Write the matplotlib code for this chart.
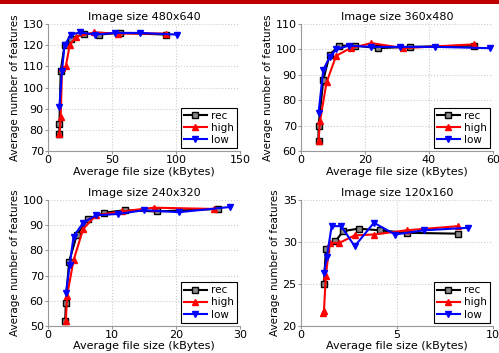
import matplotlib.pyplot as plt
import matplotlib.patches as mpatches

# (title, xlim, xticks, ylim, yticks)
panels = [
    ('Image size 480x640', (0, 150), [0, 50, 100, 150], (70, 130), [70, 80, 90, 100, 110, 120, 130]),
    ('Image size 360x480', (0, 60), [0, 20, 40, 60], (60, 110), [60, 70, 80, 90, 100, 110]),
    ('Image size 240x320', (0, 30), [0, 10, 20, 30], (50, 100), [50, 60, 70, 80, 90, 100]),
    ('Image size 120x160', (0, 10), [0, 5, 10], (20, 35), [20, 25, 30, 35]),
]

# panel 1: 480x640
rec1_x = [9, 9, 10, 13, 18, 28, 40, 56, 92]
rec1_y = [78, 83, 108, 120, 123, 125.5, 125, 125.8, 125]
high1_x = [9, 10, 11, 14, 17, 22, 36, 55, 92]
high1_y = [78, 86, 109, 110, 120, 124, 126, 125.5, 125.5]
low1_x = [9, 11, 13, 18, 25, 37, 52, 72, 101]
low1_y = [91, 108, 120, 125, 126, 125, 125.8, 125.8, 125]

# panel 2: 360x480
rec2_x = [5.5, 5.5, 7, 9, 12, 17, 24, 34, 54]
rec2_y = [64, 70, 88, 98, 101.5, 101.5, 100.5, 101, 101.5]
high2_x = [5.5, 6, 8, 11, 15.5, 22, 32, 54]
high2_y = [64, 72, 87, 97.5, 100.5, 102.5, 100.5, 102]
low2_x = [5.5, 7, 9, 11, 15, 22, 31, 42, 59]
low2_y = [75, 92, 97, 100, 101.5, 101, 101, 101, 100.5]

# panel 3: 240x320
rec3_x = [2.7, 2.8, 3.3, 4.5, 6.3, 8.8, 12, 17, 26.5]
rec3_y = [52, 59, 75.5, 86, 92.5, 95, 96, 95.5, 96.5]
high3_x = [2.8, 3, 4, 5.5, 7.5, 11.5, 16.5, 26]
high3_y = [52, 62, 76, 88.5, 94, 95.5, 97, 96.5]
low3_x = [2.8, 3.4, 4, 5.5, 7.5, 11, 15, 20.5, 28.5]
low3_y = [63, 74, 85.5, 91, 94, 94.5, 96, 95.2, 97.3]

# panel 4: 120x160
rec4_x = [1.2, 1.3, 1.8, 2.2, 3.0, 4.1, 5.5, 8.2]
rec4_y = [25, 29.2, 30.1, 31.3, 31.6, 31.4, 31.1, 31.0]
high4_x = [1.15, 1.2, 1.3, 1.5, 2.0, 2.8, 3.8, 5.5, 8.2]
high4_y = [21.5, 21.8, 26, 29.9, 29.9, 30.8, 30.9, 31.4, 31.9]
low4_x = [1.2, 1.35, 1.6, 2.1, 2.8, 3.8, 4.9, 6.4, 8.7]
low4_y = [26.3, 28.2, 31.9, 31.9, 29.5, 32.3, 30.9, 31.4, 31.7]

series = [
    [(rec1_x, rec1_y), (high1_x, high1_y), (low1_x, low1_y)],
    [(rec2_x, rec2_y), (high2_x, high2_y), (low2_x, low2_y)],
    [(rec3_x, rec3_y), (high3_x, high3_y), (low3_x, low3_y)],
    [(rec4_x, rec4_y), (high4_x, high4_y), (low4_x, low4_y)],
]
names = ['rec', 'high', 'low']
styles = [
    dict(color='black', marker='s', mfc='#888888', mec='black'),
    dict(color='#ff0000', marker='^', mfc='#ff0000', mec='#ff0000'),
    dict(color='#0000ff', marker='v', mfc='#0000ff', mec='#0000ff'),
]

fig = plt.figure(figsize=(4.99, 3.53), dpi=100)
fig.add_artist(mpatches.Rectangle((0, 0.988), 1, 0.012, transform=fig.transFigure,
                                  color='#c00000', lw=0))

rects = [
    [0.096, 0.572, 0.385, 0.360],
    [0.603, 0.572, 0.385, 0.360],
    [0.096, 0.077, 0.385, 0.356],
    [0.603, 0.077, 0.385, 0.356],
]

for i in range(4):
    title, xl, xt, yl, yt = panels[i]
    ax = fig.add_axes(rects[i])
    for (x, y), nm, st in zip(series[i], names, styles):
        ax.plot(x, y, lw=1.5, ms=4.5, label=nm, **st)
    ax.set_xlim(xl)
    ax.set_ylim(yl)
    ax.set_xticks(xt)
    ax.set_yticks(yt)
    ax.grid(True, ls=':', color='#cccccc', lw=0.8)
    for s in ['top', 'right']:
        ax.spines[s].set_visible(False)
    for s in ['left', 'bottom']:
        ax.spines[s].set_color('#999999')
        ax.spines[s].set_linewidth(0.8)
    ax.tick_params(labelsize=8, length=2, color='#999999', pad=1)
    ax.set_title(title, fontsize=8, pad=3)
    ax.set_xlabel('Average file size (kBytes)', fontsize=8, labelpad=1)
    ax.set_ylabel('Average number of features', fontsize=7.5, labelpad=2)
    leg = ax.legend(loc='lower right', fontsize=7.5, fancybox=False, framealpha=1,
                    edgecolor='black', handlelength=2.2, borderpad=0.3,
                    labelspacing=0.2, handletextpad=0.4, borderaxespad=0.3)
    leg.get_frame().set_linewidth(0.8)

fig.savefig('out.png', dpi=100)
